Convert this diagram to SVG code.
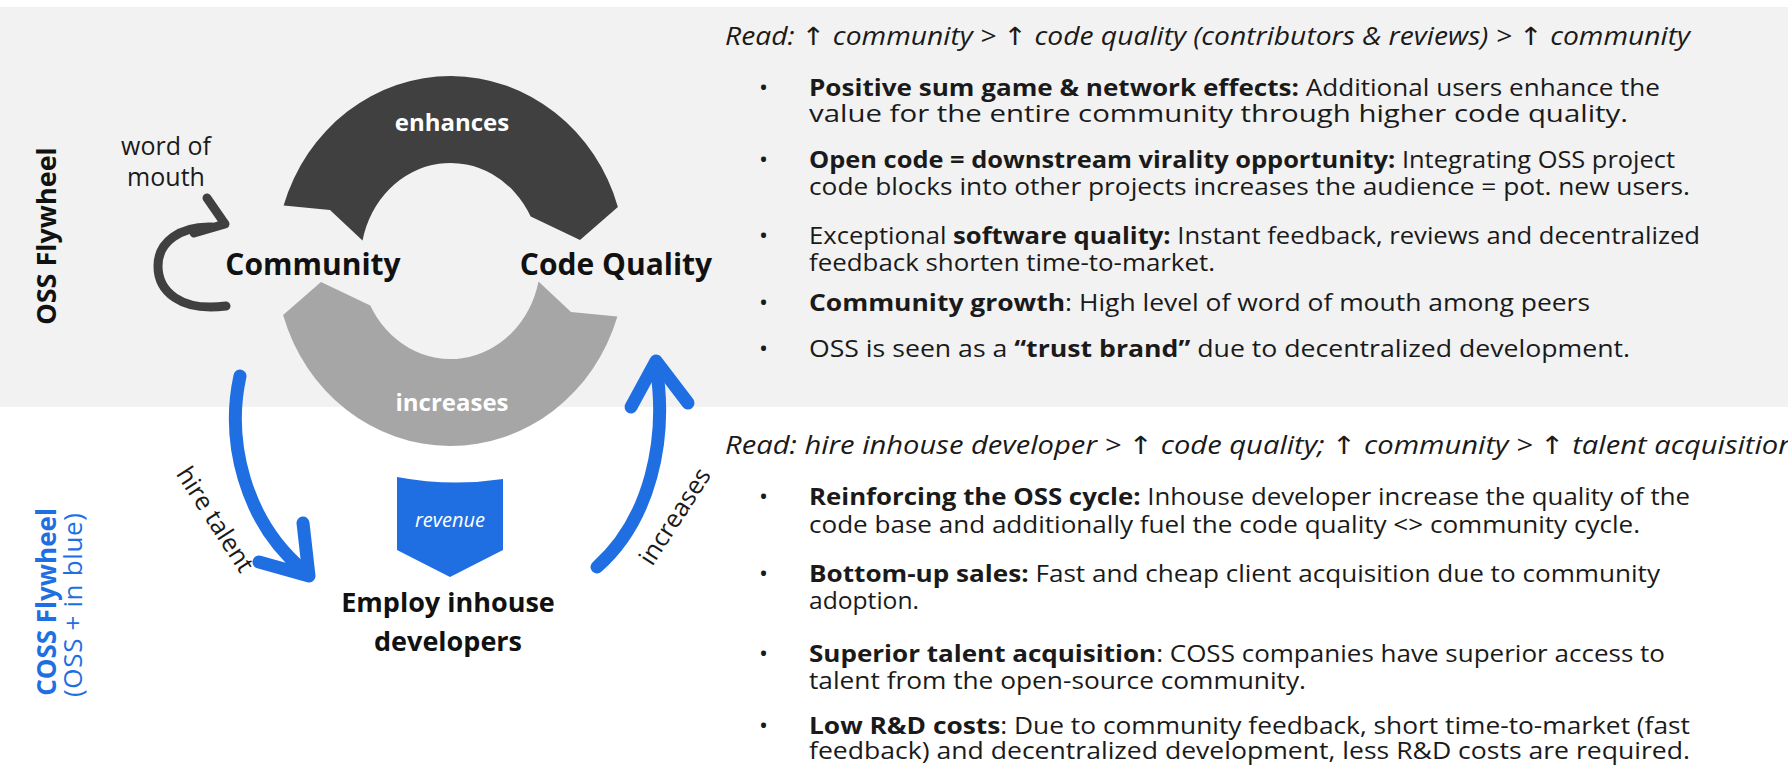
<svg xmlns="http://www.w3.org/2000/svg" width="1788" height="765" viewBox="0 0 1788 765">
  <defs>
    <style>
      .sans { font-family: "Open Sans", "Noto Sans", "Liberation Sans", sans-serif; }
      .node { font-family: "Open Sans", "Noto Sans", "Liberation Sans", sans-serif; font-weight: 700; fill: #111111; }
      .arclabel { font-family: "Open Sans", "Noto Sans", "Liberation Sans", sans-serif; font-weight: 700; font-size: 24px; fill: #ffffff; text-anchor: middle; }
      .edge { font-family: "Open Sans", "Noto Sans", "Liberation Sans", sans-serif; font-size: 25px; fill: #1a1a1a; }
      .body { font-family: "Open Sans", "Noto Sans", "Liberation Sans", sans-serif; font-size: 24px; fill: #1a1a1a; }
      .read { font-style: italic; font-size: 25px; }
      .arr { font-family: "DejaVu Sans", sans-serif; font-style: normal; }
      .b { font-weight: 700; }
      .blue-line { fill: none; stroke: #1f6fe3; stroke-width: 13; stroke-linecap: round; stroke-linejoin: round; }
      .dark-line { fill: none; stroke: #404040; stroke-width: 9; stroke-linecap: round; stroke-linejoin: round; }
    </style>
    <!-- one flywheel segment: notched tail on the left, pointed head on the right -->
    <path id="flyArc" d="M 283.6 205.4 A 175 185 0 0 1 617.9 206.9 L 580 240 L 530.7 216.5 A 90 98 0 0 0 362.5 240.6 L 330 210 Z"/>
  </defs>

  <!-- page background and OSS band -->
  <rect x="0" y="0" width="1788" height="765" fill="#ffffff"/>
  <rect x="0" y="7" width="1788" height="400" fill="#f2f2f2"/>

  <!-- section titles -->
  <g id="title-oss">
    <text class="sans" transform="translate(56 236) rotate(-90)" text-anchor="middle" font-size="27" font-weight="700" fill="#111111">OSS Flywheel</text>
  </g>
  <g id="title-coss">
    <text class="sans" transform="translate(56 602) rotate(-90)" text-anchor="middle" font-size="26" font-weight="700" fill="#1f6fe3">COSS Flywheel</text>
    <text class="sans" transform="translate(82 605) rotate(-90)" text-anchor="middle" font-size="26" fill="#1f6fe3" textLength="184" lengthAdjust="spacing">(OSS +  in blue)</text>
  </g>

  <!-- flywheel arcs -->
  <g id="arc-enhances">
    <use href="#flyArc" fill="#404040"/>
    <text class="arclabel" x="452" y="131">enhances</text>
  </g>
  <g id="arc-increases">
    <use href="#flyArc" fill="#a6a6a6" transform="rotate(180 450.5 261)"/>
    <text class="arclabel" x="452" y="411">increases</text>
  </g>

  <!-- nodes -->
  <g id="node-community">
    <text class="node" x="313" y="275" font-size="30" text-anchor="middle">Community</text>
  </g>
  <g id="node-code-quality">
    <text class="node" x="616" y="275" font-size="30" text-anchor="middle">Code Quality</text>
  </g>
  <g id="node-employ">
    <text class="node" x="448" y="612" font-size="27" text-anchor="middle">Employ inhouse</text>
    <text class="node" x="448" y="651" font-size="27" text-anchor="middle">developers</text>
  </g>
  <g id="node-revenue">
    <path d="M 397 477 Q 450 487 503 479 L 503 550 L 450 577 L 397 550 Z" fill="#1f6fe3"/>
    <text class="sans" x="450" y="527" font-size="20" font-style="italic" fill="#ffffff" text-anchor="middle">revenue</text>
  </g>

  <!-- connectors -->
  <g id="connectors">
    <!-- word of mouth self loop -->
    <path class="dark-line" d="M 226 306 C 180 312 158 291 158 266 C 158 242 180 226 212 227"/>
    <polyline class="dark-line" points="207,198 225,224 194,233"/>
    <text class="edge" x="166" y="155" text-anchor="middle">word of</text>
    <text class="edge" x="166" y="186" text-anchor="middle">mouth</text>

    <!-- hire talent -->
    <path class="blue-line" d="M 240 376 C 226 440 244 520 303 570"/>
    <polyline class="blue-line" points="303,523 309,576 259,562"/>
    <text class="edge" transform="translate(208 524) rotate(57)" text-anchor="middle" font-size="26">hire talent</text>

    <!-- increases (developers to code quality) -->
    <path class="blue-line" d="M 597 567 C 650 520 668 440 656 366"/>
    <polyline class="blue-line" points="631,407 656,361 688,403"/>
    <text class="edge" transform="translate(682 521) rotate(-57)" text-anchor="middle" font-size="26">increases</text>
  </g>

  <!-- OSS notes -->
  <g id="notes-oss" class="body">
    <text class="read" x="725" y="45" textLength="965" lengthAdjust="spacingAndGlyphs">Read: <tspan class="arr">↑</tspan> community &gt; <tspan class="arr">↑</tspan> code quality (contributors &amp; reviews) &gt; <tspan class="arr">↑</tspan> community</text>
    <text x="759" y="96">•</text>
    <text x="809" y="96" textLength="851" lengthAdjust="spacingAndGlyphs"><tspan class="b">Positive sum game &amp; network effects:</tspan> Additional users enhance the</text>
    <text x="809" y="122" textLength="819" lengthAdjust="spacingAndGlyphs">value for the entire community through higher code quality.</text>
    <text x="759" y="168">•</text>
    <text x="809" y="168" textLength="866" lengthAdjust="spacingAndGlyphs"><tspan class="b">Open code = downstream virality opportunity:</tspan> Integrating OSS project</text>
    <text x="809" y="195" textLength="881" lengthAdjust="spacingAndGlyphs">code blocks into other projects increases the audience = pot. new users.</text>
    <text x="759" y="244">•</text>
    <text x="809" y="244" textLength="891" lengthAdjust="spacingAndGlyphs">Exceptional <tspan class="b">software quality:</tspan> Instant feedback, reviews and decentralized</text>
    <text x="809" y="271" textLength="406" lengthAdjust="spacingAndGlyphs">feedback shorten time-to-market.</text>
    <text x="759" y="311">•</text>
    <text x="809" y="311" textLength="781" lengthAdjust="spacingAndGlyphs"><tspan class="b">Community growth</tspan>: High level of word of mouth among peers</text>
    <text x="759" y="357">•</text>
    <text x="809" y="357" textLength="821" lengthAdjust="spacingAndGlyphs">OSS is seen as a <tspan class="b">“trust brand”</tspan> due to decentralized development.</text>
  </g>

  <!-- COSS notes -->
  <g id="notes-coss" class="body">
    <text class="read" x="725" y="454" textLength="1070" lengthAdjust="spacingAndGlyphs">Read: hire inhouse developer &gt; <tspan class="arr">↑</tspan> code quality; <tspan class="arr">↑</tspan> community &gt; <tspan class="arr">↑</tspan> talent acquisition</text>
    <text x="759" y="505">•</text>
    <text x="809" y="505" textLength="881" lengthAdjust="spacingAndGlyphs"><tspan class="b">Reinforcing the OSS cycle:</tspan> Inhouse developer increase the quality of the</text>
    <text x="809" y="533" textLength="831" lengthAdjust="spacingAndGlyphs">code base and additionally fuel the code quality &lt;&gt; community cycle.</text>
    <text x="759" y="582">•</text>
    <text x="809" y="582" textLength="851" lengthAdjust="spacingAndGlyphs"><tspan class="b">Bottom-up sales:</tspan> Fast and cheap client acquisition due to community</text>
    <text x="809" y="609" textLength="110" lengthAdjust="spacingAndGlyphs">adoption.</text>
    <text x="759" y="662">•</text>
    <text x="809" y="662" textLength="856" lengthAdjust="spacingAndGlyphs"><tspan class="b">Superior talent acquisition</tspan>: COSS companies have superior access to</text>
    <text x="809" y="689" textLength="497" lengthAdjust="spacingAndGlyphs">talent from the open-source community.</text>
    <text x="759" y="734">•</text>
    <text x="809" y="734" textLength="881" lengthAdjust="spacingAndGlyphs"><tspan class="b">Low R&amp;D costs</tspan>: Due to community feedback, short time-to-market (fast</text>
    <text x="809" y="759" textLength="881" lengthAdjust="spacingAndGlyphs">feedback) and decentralized development, less R&amp;D costs are required.</text>
  </g>
</svg>
